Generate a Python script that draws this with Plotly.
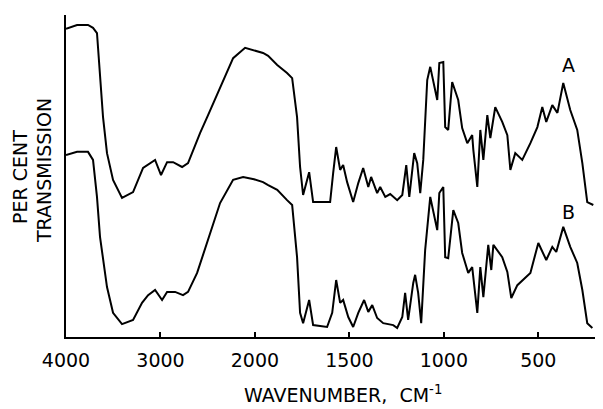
import plotly.graph_objects as go

# Wavenumber (cm^-1) and relative transmission
wn_a = [4000, 3883, 3767, 3714, 3672, 3640, 3608, 3566, 3502, 3407, 3290, 3184, 3057, 2994, 2930,
        2866, 2771, 2708, 2580, 2496, 2369, 2231, 2104, 2010, 1957, 1930, 1882, 1830, 1803, 1777,
        1761, 1745,
        1713, 1692, 1602, 1586, 1570, 1549, 1533, 1512, 1480, 1453, 1427, 1400, 1385, 1353, 1337,
        1310, 1284, 1247, 1220, 1199, 1183, 1157, 1141, 1125, 1109, 1088, 1072, 1035, 1024, 1003,
        993, 977, 956, 924, 903, 876, 850, 844, 823, 807, 791, 770, 754, 728, 691, 664, 648, 622,
        585, 542, 505, 479, 458, 426, 399, 368, 331, 294, 267, 241, 209]
tr_a = [95.7, 96.9, 96.9, 96.0, 94.4, 80.7, 68.3, 57.1, 48.8, 43.2, 45.0, 52.5, 55.0, 50.3, 54.3,
        54.3, 52.8, 54.0, 63.4, 68.9, 77.6, 86.6, 89.8, 89.0, 88.2, 87.3, 84.5, 82.0, 80.4, 68.3,
        52.8, 44.1,
        51.2, 41.9, 41.9, 50.9, 59.0, 51.9, 53.4, 48.1, 41.9, 47.8, 52.5, 46.6, 49.7, 44.7, 46.6,
        43.5, 44.4, 42.5, 44.1, 53.4, 43.5, 57.1, 54.0, 44.7, 55.0, 79.8, 83.9, 73.6, 85.1, 85.4,
        65.2, 64.3, 79.2, 73.6, 64.9, 60.2, 62.7, 58.1, 46.6, 64.3, 55.0, 68.9, 61.8, 71.4, 66.8,
        62.7, 51.9, 57.1, 55.0, 60.2, 65.2, 71.4, 66.8, 72.0, 69.6, 78.9, 70.5, 64.3, 54.0, 41.9, 41.0]

wn_b = [4000, 3883, 3767, 3714, 3672, 3640, 3566, 3502, 3407, 3290, 3195, 3131, 3057, 2983, 2930,
        2845, 2761, 2708, 2612, 2506, 2369, 2231, 2125, 2010, 1957, 1930, 1882, 1830, 1803, 1777,
        1761, 1745,
        1713, 1692, 1618, 1591, 1570, 1549, 1533, 1506, 1480, 1453, 1422, 1400, 1379, 1353, 1321,
        1268, 1247, 1220, 1205, 1189, 1162, 1152, 1136, 1120, 1099, 1072, 1035, 1024, 1003, 993,
        977, 950, 924, 903, 871, 850, 823, 807, 791, 765, 749, 738, 691, 664, 643, 611, 542, 500,
        458, 426, 405, 368, 331, 294, 267, 241, 214]
tr_b = [56.5, 57.5, 57.5, 55.0, 43.5, 31.1, 15.5, 7.5, 4.0, 5.3, 10.6, 13.0, 14.6, 11.5, 14.0,
        14.0, 13.0, 14.0, 19.9, 29.2, 41.6, 48.8, 49.7, 49.0, 48.1, 47.2, 45.7, 42.5, 41.0, 24.8,
        7.5, 4.3,
        11.5, 3.7, 3.1, 7.5, 17.7, 10.6, 11.5, 6.2, 3.1, 7.5, 11.5, 7.8, 9.9, 5.9, 4.3,
        3.7, 2.8, 6.2, 13.7, 5.3, 16.8, 19.3, 13.7, 4.3, 27.0, 43.5, 33.2, 44.7, 46.6, 24.8,
        24.5, 39.4, 35.4, 26.1, 19.9, 21.7, 7.5, 21.7, 12.4, 28.6, 20.8, 28.6, 24.8, 20.2, 12.1,
        16.1, 19.9, 29.2, 23.9, 28.0, 26.4, 34.2, 28.0, 23.0, 14.6, 4.3, 2.8]

tick_wn = [4000, 3000, 2000, 1500, 1000, 500]
tick_text = ["4000", "3000", "2000", "1500", "1000", "500"]
labels = ["A", "B"]
label_wn = [341, 341]
label_tr = [84.5, 38.8]


def scale(w):
    # IR chart scale: doubles its expansion below 2000 cm^-1
    return (4000 - w) if w >= 2000 else 2000 + 2 * (2000 - w)


FONT = "DejaVu Sans"
L, R, T, B = 66, 8, 15, 72
PW, PH = 603 - L - R, 409 - T - B


def px(x):
    return (x - L) / PW


def py(y):
    return (409 - B - y) / PH


fig = go.Figure()
for wn, tr in [(wn_a, tr_a), (wn_b, tr_b)]:
    fig.add_trace(go.Scatter(x=[scale(w) for w in wn], y=tr, mode="lines",
                             line=dict(color="black", width=2), showlegend=False,
                             hoverinfo="skip"))

for t, w, v in zip(labels, label_wn, label_tr):
    fig.add_annotation(x=scale(w), y=v, text=t, showarrow=False,
                       font=dict(family=FONT, size=19, color="black"))

fig.add_annotation(xref="paper", yref="paper", x=px(20), y=py(177), text="PER CENT",
                   textangle=-90, showarrow=False, xanchor="center", yanchor="middle",
                   font=dict(family=FONT, size=19, color="black"))
fig.add_annotation(xref="paper", yref="paper", x=px(44), y=py(171), text="TRANSMISSION",
                   textangle=-90, showarrow=False, xanchor="center", yanchor="middle",
                   font=dict(family=FONT, size=19, color="black"))
fig.add_annotation(xref="paper", yref="paper", x=px(343), y=py(394),
                   text="WAVENUMBER,  CM<sup>-1</sup>", showarrow=False,
                   xanchor="center", yanchor="middle",
                   font=dict(family=FONT, size=19, color="black"))

fig.update_layout(
    width=603, height=409,
    margin=dict(l=L, r=R, t=T, b=B),
    paper_bgcolor="white", plot_bgcolor="white",
    font=dict(family=FONT, color="black"),
    hovermode=False,
    xaxis=dict(range=[0, 5600], tickvals=[scale(w) for w in tick_wn], ticktext=tick_text,
               ticks="inside", ticklen=5, tickwidth=1.5, tickcolor="black",
               showline=True, linecolor="black", linewidth=2, showgrid=False, zeroline=False,
               tickfont=dict(family=FONT, size=19, color="black"), ticklabelstandoff=5,
               automargin=False, fixedrange=True),
    yaxis=dict(range=[0, 100], tickvals=[100], ticks="inside", ticklen=6, tickwidth=1.5,
               tickcolor="black", showticklabels=False, showline=True, linecolor="black",
               linewidth=2, showgrid=False, zeroline=False, automargin=False, fixedrange=True),
)

fig.write_html("out.html", config={"displayModeBar": False},
               post_script="document.body.style.margin='0';")
